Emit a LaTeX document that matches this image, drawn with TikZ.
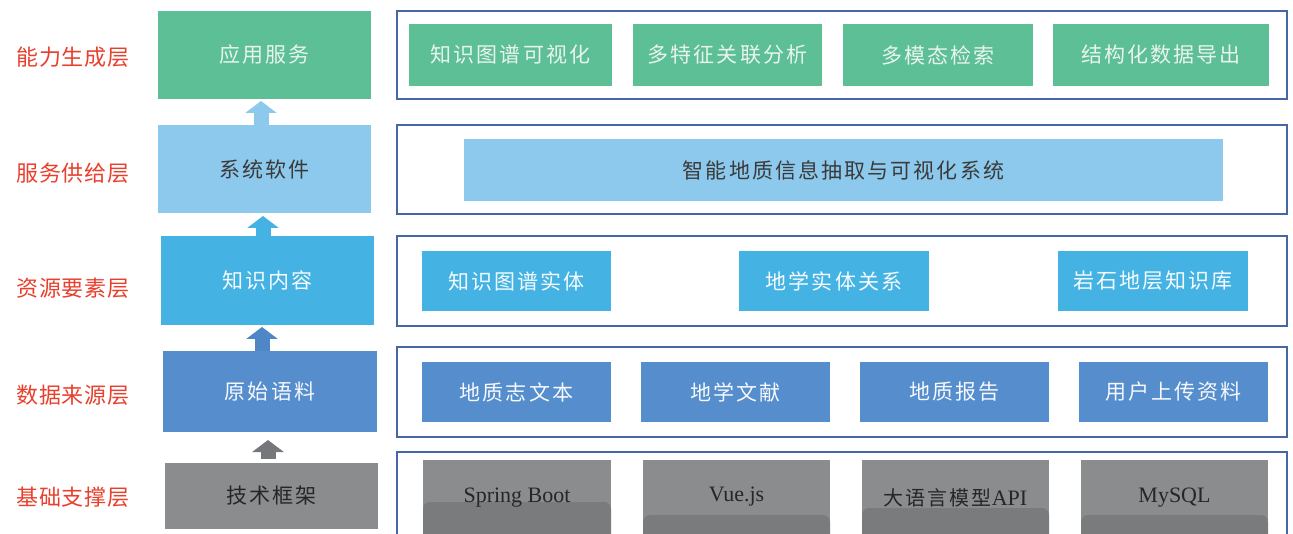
\documentclass[tikz,border=0pt]{standalone}
\usepackage{fontspec}
\setmainfont{Liberation Serif}
\newfontfamily\cjk[LetterSpace=10]{Noto Sans CJK SC}
\newfontfamily\cjkred[LetterSpace=3]{Noto Sans CJK SC}
\usetikzlibrary{arrows.meta,calc}
\definecolor{cgreen}{HTML}{5CBF95}
\definecolor{clight}{HTML}{8DC9EC}
\definecolor{ccyan}{HTML}{44B3E3}
\definecolor{cblue}{HTML}{558DCD}
\definecolor{cgray}{HTML}{8B8C8E}
\definecolor{cgraydk}{HTML}{7A7B7D}
\definecolor{carrgray}{HTML}{76777A}
\definecolor{carrblue}{HTML}{4F86C6}
\definecolor{cbord}{HTML}{4666AA}
\definecolor{cred}{HTML}{E8402D}
\definecolor{cdark}{HTML}{3A3A3A}
\definecolor{clighttext}{HTML}{EAF4EE}
\newcommand\bx[7]{\node[#6, minimum width={#4-#2}, minimum height={#5-#3}] (#1) at ({(#2+#4)/2},{(#3+#5)/2}) {#7};}
\begin{document}
\begin{tikzpicture}[x=1pt,y=-1pt,
  base/.style={inner sep=0pt, outer sep=0pt, draw=none, font=\cjk\fontsize{21}{21}\selectfont},
  greenbox/.style={base, fill=cgreen, text=clighttext},
  lightbox/.style={base, fill=clight, text=cdark},
  cyanbox/.style={base, fill=ccyan, text=white!95!ccyan},
  bluebox/.style={base, fill=cblue, text=white!95!cblue},
  graybox/.style={base, fill=cgray, text=black!85},
  techbox/.style={base, fill=cgray, text=black!85, font=\rmfamily\fontsize{22}{22}\selectfont,
    path picture={\fill[cgraydk, rounded corners=7pt] ([yshift=#1]path picture bounding box.south west) rectangle ([yshift=-12pt]path picture bounding box.south east);}},
  outerbox/.style={draw=cbord, line width=1.3pt, fill=white, inner sep=0pt},
  layerlabel/.style={text=cred, font=\cjkred\fontsize{22}{22}\selectfont, inner sep=0pt},
  blockarrow/.style={draw=#1, line width=15pt, -{Triangle[width=31pt,length=12pt]}}
]
\useasboundingbox (0,0) rectangle (1293,534);
\fill[white] (0,0) rectangle (1293,534);
\clip (0,0) rectangle (1293,534);

% layer labels
\node[layerlabel] (l1) at (73,57) {能力生成层};
\node[layerlabel] (l2) at (73,173) {服务供给层};
\node[layerlabel] (l3) at (73,288) {资源要素层};
\node[layerlabel] (l4) at (73,395) {数据来源层};
\node[layerlabel] (l5) at (73,497) {基础支撑层};

% left column
\bx{app}{158}{11}{371}{99}{greenbox}{应用服务}
\bx{sys}{158}{125}{371}{213}{lightbox}{系统软件}
\bx{kc}{161}{236}{374}{325}{cyanbox}{知识内容}
\bx{raw}{163}{351}{377}{432}{bluebox}{原始语料}
\bx{tech}{165}{463}{378}{529}{graybox}{技术框架}

% arrows
\draw[blockarrow=clight] ($(sys.north)+(-3.5,0)$) -- ($(app.south)+(-3.5,2)$);
\draw[blockarrow=ccyan] ($(kc.north)+(-4.5,0)$) -- ($(sys.south)+(-1.5,3)$);
\draw[blockarrow=carrblue] ($(raw.north)+(-8,0)$) -- ($(kc.south)+(-5.5,2)$);
\draw[blockarrow=carrgray] ($(tech.north)+(-3.5,-4)$) -- ($(raw.south)+(-2,8)$);

% outer frames
\bx{o1}{397}{11}{1287}{99}{outerbox}{}
\bx{o2}{397}{125}{1287}{214}{outerbox}{}
\bx{o3}{397}{236}{1287}{326}{outerbox}{}
\bx{o4}{397}{347}{1287}{437}{outerbox}{}
\bx{o5}{397}{452}{1287}{560}{outerbox}{}

% row 1
\bx{a1}{409}{24}{612}{86}{greenbox}{知识图谱可视化}
\bx{a2}{633}{24}{822}{86}{greenbox}{多特征关联分析}
\bx{a3}{843}{24}{1033}{86}{greenbox}{多模态检索}
\bx{a4}{1053}{24}{1269}{86}{greenbox}{结构化数据导出}

% row 2
\bx{b1}{464}{139}{1223}{201}{lightbox}{智能地质信息抽取与可视化系统}

% row 3
\bx{c1}{422}{251}{611}{311}{cyanbox}{知识图谱实体}
\bx{c2}{739}{251}{929}{311}{cyanbox}{地学实体关系}
\bx{c3}{1058}{251}{1248}{311}{cyanbox}{岩石地层知识库}

% row 4
\bx{d1}{422}{362}{611}{422}{bluebox}{地质志文本}
\bx{d2}{641}{362}{830}{422}{bluebox}{地学文献}
\bx{d3}{860}{362}{1049}{422}{bluebox}{地质报告}
\bx{d4}{1079}{362}{1268}{422}{bluebox}{用户上传资料}

% row 5
\bx{e1}{423}{460}{611}{536}{techbox=34pt}{Spring Boot}
\bx{e2}{643}{460}{830}{536}{techbox=21pt}{\raisebox{8pt}{Vue.js}}
\bx{e3}{862}{460}{1049}{536}{techbox=28pt}{{\cjk\fontsize{20}{20}\selectfont 大语言模型}API}
\bx{e4}{1081}{460}{1268}{536}{techbox=21pt}{\raisebox{3pt}{MySQL}}
\end{tikzpicture}
\end{document}
